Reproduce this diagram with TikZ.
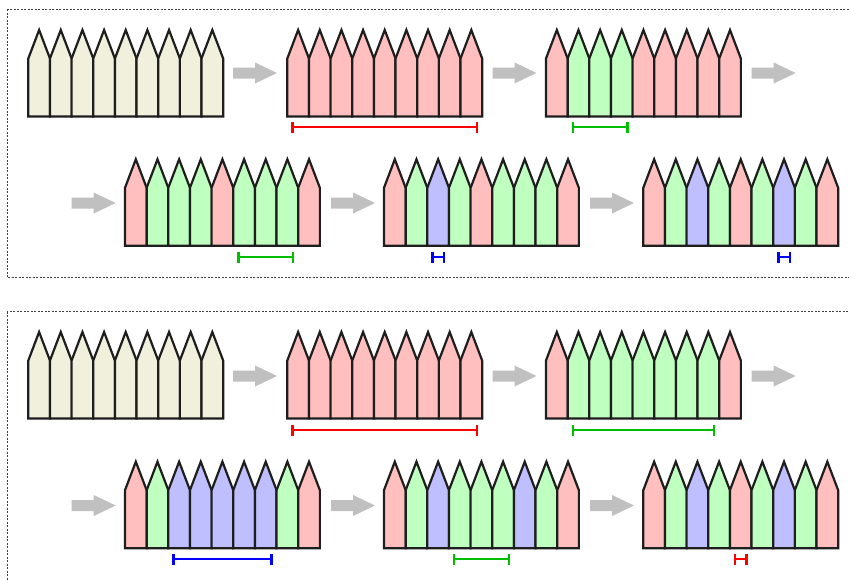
\documentclass[tikz,border=0pt]{standalone}
\usetikzlibrary{arrows.meta}
\definecolor{pr}{HTML}{FFBFBF}
\definecolor{pg}{HTML}{BFFFBF}
\definecolor{pb}{HTML}{BFBFFF}
\definecolor{py}{HTML}{F0F0DC}
\definecolor{barred}{HTML}{FF0000}
\definecolor{bargreen}{HTML}{00BF00}
\definecolor{barblue}{HTML}{0000FF}
\definecolor{arrowgray}{HTML}{C0C0C0}
\definecolor{outline}{HTML}{1E1E1E}
\tikzset{
  picket/.style={draw=outline, line width=2.2pt, line join=miter},
  spanbar/.style={line width=2.3pt, arrows={Bar[width=11pt]-Bar[width=11pt]}},
  framebox/.style={draw=black!75, line width=0.9pt, dash pattern=on 2pt off 1.5pt},
}
\newcommand{\drawfence}[3]{%
  \foreach \c [count=\i from 0] in {#3}{%
    \filldraw[picket, fill=\c] ({#1+\i*21.65},{#2+86.5}) -- ({#1+\i*21.65},{#2+28.5}) -- ({#1+(\i+0.5)*21.65},{#2}) -- ({#1+(\i+1)*21.65},{#2+28.5}) -- ({#1+(\i+1)*21.65},{#2+86.5}) -- cycle;
  }}
\newcommand{\grayarrow}[2]{%
  \fill[arrowgray] ({#1},{#2-5.5}) -- ++(22,0) -- ++(0,-5) -- ++(22,10.5) -- ++(-22,10.5) -- ++(0,-5) -- ++(-22,0) -- cycle;}
\newcommand{\spanbar}[5]{%
  \draw[spanbar, #1] ({#2+#3*21.65+4},{#5}) -- ({#2+#4*21.65-4},{#5});}
\begin{document}
\begin{tikzpicture}[x=1pt,y=-1pt]
\useasboundingbox (0,0) rectangle (849,579);
\clip (0,0) rectangle (849,579);
\fill[white] (0,0) rectangle (849,579);
% frames
\draw[framebox] (7,9.3) rectangle (870,277.7);
\draw[framebox] (7,311.7) rectangle (870,620);
% ---- box 1, row 1
\drawfence{28.3}{30}{py,py,py,py,py,py,py,py,py}
\grayarrow{233}{73}
\drawfence{287.3}{30}{pr,pr,pr,pr,pr,pr,pr,pr,pr}
\grayarrow{492.5}{73}
\drawfence{546}{30}{pr,pg,pg,pg,pr,pr,pr,pr,pr}
\grayarrow{751.7}{73}
\spanbar{barred}{287.3}{0}{9}{127}
\spanbar{bargreen}{546}{1}{4}{127}
% ---- box 1, row 2
\grayarrow{71.7}{203}
\drawfence{125}{159.3}{pr,pg,pg,pg,pr,pg,pg,pg,pr}
\grayarrow{331}{203}
\drawfence{384}{159.3}{pr,pg,pb,pg,pr,pg,pg,pg,pr}
\grayarrow{590}{203}
\drawfence{643.3}{159.3}{pr,pg,pb,pg,pr,pg,pb,pg,pr}
\spanbar{bargreen}{125}{5}{8}{257}
\spanbar{barblue}{384}{2}{3}{257}
\spanbar{barblue}{643.3}{6}{7}{257}
% ---- box 2, row 1
\drawfence{28.3}{332}{py,py,py,py,py,py,py,py,py}
\grayarrow{233}{376}
\drawfence{287.3}{332}{pr,pr,pr,pr,pr,pr,pr,pr,pr}
\grayarrow{492.5}{376}
\drawfence{546}{332}{pr,pg,pg,pg,pg,pg,pg,pg,pr}
\grayarrow{751.7}{376}
\spanbar{barred}{287.3}{0}{9}{430}
\spanbar{bargreen}{546}{1}{8}{430}
% ---- box 2, row 2
\grayarrow{71.7}{505.5}
\drawfence{125}{461.7}{pr,pg,pb,pb,pb,pb,pb,pg,pr}
\grayarrow{331}{505.5}
\drawfence{384}{461.7}{pr,pg,pb,pg,pg,pg,pb,pg,pr}
\grayarrow{590}{505.5}
\drawfence{643.3}{461.7}{pr,pg,pb,pg,pr,pg,pb,pg,pr}
\spanbar{barblue}{125}{2}{7}{559.3}
\spanbar{bargreen}{384}{3}{6}{559.3}
\spanbar{barred}{643.3}{4}{5}{559.3}
\end{tikzpicture}
\end{document}
